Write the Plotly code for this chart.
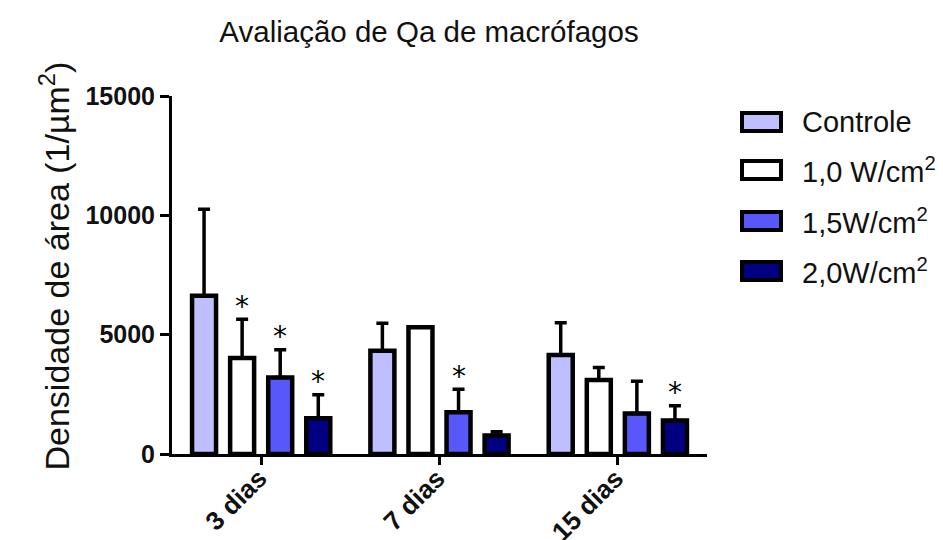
import plotly.graph_objects as go

# Data
categories = ["3 dias", "7 dias", "15 dias"]
series_names = ["Controle", "1,0 W/cm<sup>2</sup>", "1,5W/cm<sup>2</sup>", "2,0W/cm<sup>2</sup>"]
controle_mean = [6630, 4330, 4150]
controle_sd = [3630, 1150, 1350]
w10_mean = [4020, 5310, 3100]
w10_sd = [1630, 0, 520]
w15_mean = [3210, 1750, 1700]
w15_sd = [1160, 960, 1350]
w20_mean = [1500, 780, 1400]
w20_sd = [980, 150, 620]
# significance markers (1 = "*")
controle_sig = [0, 0, 0]
w10_sig = [1, 0, 0]
w15_sig = [1, 1, 0]
w20_sig = [1, 0, 1]
y_ticks = [0, 5000, 10000, 15000]

means = [controle_mean, w10_mean, w15_mean, w20_mean]
sds = [controle_sd, w10_sd, w15_sd, w20_sd]
sigs = [controle_sig, w10_sig, w15_sig, w20_sig]
colors = ["#BFBFFF", "#FFFFFF", "#5757FA", "#000080"]

FONT = "Liberation Sans, Arial, sans-serif"
W, H = 943, 540
L, R, T, B = 172, 236, 96, 86
PW, PH = W - L - R, H - T - B


def px_x(p):
    return (p - L) / PW


def px_y(p):
    return (H - B - p) / PH


fig = go.Figure()
for name, m, s, c in zip(series_names, means, sds, colors):
    fig.add_trace(go.Bar(
        x=categories, y=m, name=name,
        marker=dict(color=c, line=dict(color="black", width=4.5)),
        error_y=dict(type="data", array=s, arrayminus=[0] * len(s), symmetric=False,
                     color="black", thickness=3.5, width=6),
        offsetgroup=name,
    ))

annotations = []
n = len(series_names)
bargap, slot = 0.146, (1 - 0.146) / n
for i, (m, s, sg) in enumerate(zip(means, sds, sigs)):
    for j, cat in enumerate(categories):
        if sg[j]:
            xpos = j - (1 - bargap) / 2 + slot * (i + 0.5)
            annotations.append(dict(
                x=xpos, y=m[j] + s[j], xref="x", yref="y", text="*",
                showarrow=False, yanchor="middle", yshift=13,
                font=dict(family="DejaVu Sans", size=28, color="black")))

# rotated category labels under the ticks
for cat in categories:
    annotations.append(dict(
        x=cat, y=px_y(460), xref="x", yref="paper", text=cat, textangle=-45,
        showarrow=False, xanchor="right", yanchor="top", xshift=14,
        font=dict(family=FONT, size=26, color="#111111", weight="bold")))

# y-axis title
annotations.append(dict(
    x=px_x(30), y=px_y(266), xref="paper", yref="paper",
    text="Densidade de área (1/µm<sup>2</sup>)", textangle=-90, showarrow=False,
    font=dict(family=FONT, size=34, color="#111111")))

# legend drawn with shapes + labels
shapes = []
leg_y = [122, 170, 221, 271]
for name, c, yc in zip(series_names, colors, leg_y):
    shapes.append(dict(type="rect", xref="paper", yref="paper",
                       x0=px_x(742), x1=px_x(781), y0=px_y(yc + 9), y1=px_y(yc - 9),
                       fillcolor=c, line=dict(color="black", width=4)))
    annotations.append(dict(x=px_x(800), y=px_y(yc), xref="paper", yref="paper",
                            text=name, showarrow=False, xanchor="left", yanchor="middle",
                            font=dict(family=FONT, size=29, color="#111111")))

fig.update_layout(
    width=W, height=H,
    margin=dict(l=L, r=R, t=T, b=B),
    paper_bgcolor="white", plot_bgcolor="white",
    barmode="group", bargap=bargap, bargroupgap=0.37,
    showlegend=False,
    title=dict(text="Avaliação de Qa de macrófagos", x=px_x(429), xref="paper",
               xanchor="center", y=1 - 32 / H, yanchor="middle",
               font=dict(family=FONT, size=29.5, color="#111111")),
    xaxis=dict(range=[-0.5, 2.5], showline=True, linecolor="black", linewidth=3,
               ticks="outside", ticklen=8, tickwidth=3, tickcolor="black",
               showticklabels=False, showgrid=False, zeroline=False, automargin=False),
    yaxis=dict(range=[0, 15000], tickvals=y_ticks, ticktext=[str(v) for v in y_ticks],
               showline=True, linecolor="black", linewidth=3,
               ticks="outside", ticklen=9, tickwidth=3, tickcolor="black",
               showgrid=False, zeroline=False, automargin=False,
               tickfont=dict(family=FONT, size=25, color="#111111", weight="bold")),
    annotations=annotations,
    shapes=shapes,
)

fig.write_html("out.html")
